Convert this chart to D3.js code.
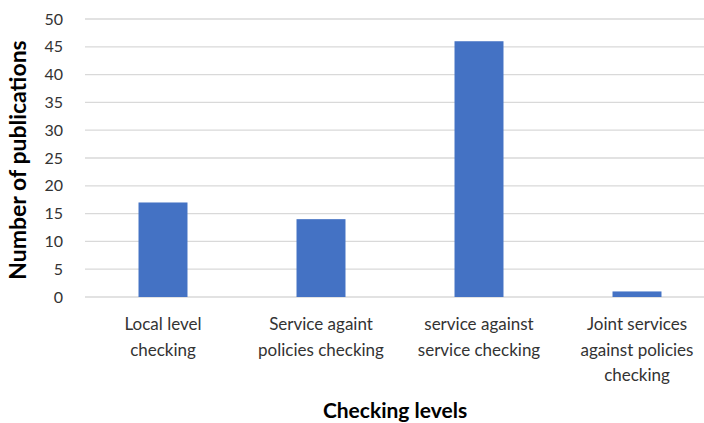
<!DOCTYPE html>
<html>
<head>
<meta charset="utf-8">
<script src="https://cdn.jsdelivr.net/npm/d3@7"></script>
<style>
  body { margin: 0; background: #fff; overflow: hidden; }
  text { font-family: Lato, "Open Sans", sans-serif; fill: #333; }
</style>
</head>
<body>
<div class="chart"></div>
<script>
var categories = [
    ["Local level", "checking"],
    ["Service againt", "policies checking"],
    ["service against", "service checking"],
    ["Joint services", "against policies", "checking"]
];
var values = [17, 14, 46, 1];
var yTicks = [0, 5, 10, 15, 20, 25, 30, 35, 40, 45, 50];

var svgW = 704, svgH = 423;
var margin = { top: 19, right: -12, bottom: 126, left: 84 };
var w = svgW - margin.left - margin.right;
var h = svgH - margin.top - margin.bottom;

var svg = d3.select(".chart")
    .append("svg")
    .attr("width", svgW)
    .attr("height", svgH)
    .append("g")
    .attr("transform", "translate(" + margin.left + "," + margin.top + ")");

var xS = d3.scaleBand().domain(d3.range(categories.length)).range([0, w]).paddingInner(0.69).paddingOuter(0.345);
var yS = d3.scaleLinear().domain([0, 50]).range([h, 0]);

// gridlines
svg.append("g")
    .selectAll("line")
    .data(yTicks)
    .enter()
    .append("line")
    .attr("x1", 1)
    .attr("x2", svgW - margin.left)
    .attr("y1", function(d) { return yS(d); })
    .attr("y2", function(d) { return yS(d); })
    .attr("stroke", "#d9d9d9")
    .attr("stroke-width", 1.3);

// y tick labels
svg.append("g")
    .selectAll("text")
    .data(yTicks)
    .enter()
    .append("text")
    .attr("x", -21)
    .attr("y", function(d) { return yS(d); })
    .attr("dy", "0.35em")
    .attr("text-anchor", "end")
    .style("font-size", "16px")
    .text(function(d) { return d; });

// bars
svg.append("g")
    .selectAll("rect")
    .data(values)
    .enter()
    .append("rect")
    .attr("x", function(d, i) { return xS(i); })
    .attr("y", function(d) { return yS(d); })
    .attr("width", xS.bandwidth())
    .attr("height", function(d) { return h - yS(d); })
    .attr("fill", "#4472c4");

// category labels
var lab = svg.append("g")
    .selectAll("text")
    .data(categories)
    .enter()
    .append("text")
    .attr("text-anchor", "middle")
    .style("font-size", "17px")
    .attr("transform", function(d, i) {
        return "translate(" + (xS(i) + xS.bandwidth() / 2) + "," + (h + 33) + ")";
    });
lab.selectAll("tspan")
    .data(function(d) { return d; })
    .enter()
    .append("tspan")
    .attr("x", 0)
    .attr("y", function(d, i) { return i * 25.5; })
    .text(function(d) { return d; });

// axis titles
svg.append("text")
    .attr("x", 395 - margin.left)
    .attr("y", h + 121)
    .attr("text-anchor", "middle")
    .style("font-size", "21px")
    .style("font-weight", "bold")
    .style("fill", "#000")
    .text("Checking levels");

svg.append("text")
    .attr("transform", "rotate(-90)")
    .attr("x", -(160 - margin.top))
    .attr("y", -margin.left + 26)
    .attr("text-anchor", "middle")
    .style("font-size", "23px")
    .style("font-weight", "bold")
    .style("fill", "#000")
    .text("Number of publications");
</script>
</body>
</html>
